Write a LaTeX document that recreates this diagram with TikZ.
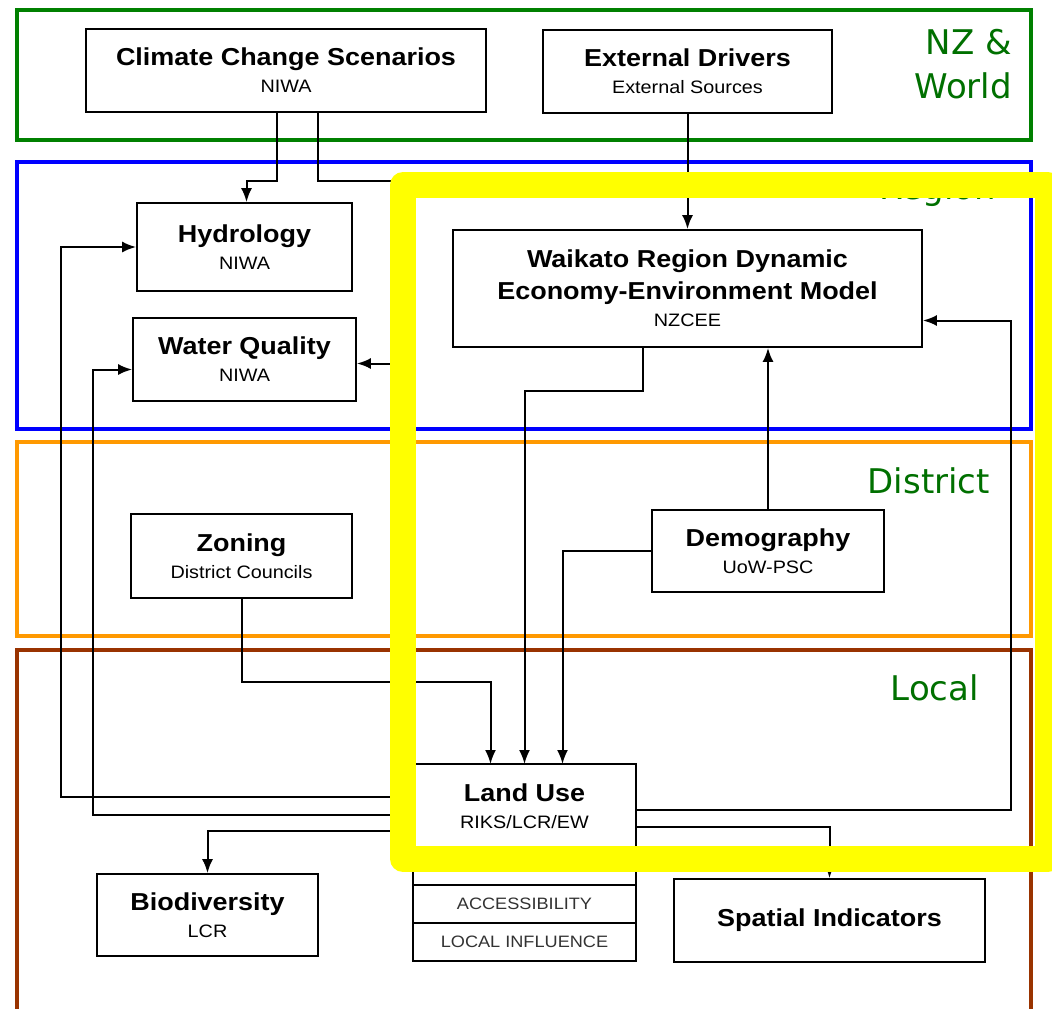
\documentclass[tikz,border=0pt]{standalone}
\usepackage{fontspec}
\setmainfont{Liberation Sans}[FakeStretch=1.1]
\newfontfamily\zonefont{DejaVu Sans}
\usetikzlibrary{positioning,calc,arrows.meta}

\definecolor{worldgreen}{RGB}{0,128,0}
\definecolor{labelgreen}{RGB}{0,112,0}
\definecolor{regionblue}{RGB}{0,0,255}
\definecolor{districtorange}{RGB}{255,153,0}
\definecolor{localbrown}{RGB}{153,51,0}
\definecolor{focusyellow}{RGB}{255,255,0}

\newcommand{\modtitle}[1]{{\fontsize{24.5}{30}\selectfont\bfseries #1}}

\tikzset{
  model/.style={draw, line width=1.8pt, align=center, inner sep=0pt,
    font=\fontsize{18}{27}\selectfont},
  cell/.style={draw, line width=1.6pt, inner sep=0pt, outer sep=0pt,
    text=black!80, font=\fontsize{16.5}{20}\selectfont},
  link/.style={line width=2pt, -{Latex[length=14pt,width=11pt]}},
  zone/.style={line width=4pt},
  zonelabel/.style={text=labelgreen, inner sep=0pt,
    font=\zonefont\fontsize{34}{44}\selectfont}
}

\begin{document}
\begin{tikzpicture}[x=1pt,y=-1pt]
    \clip (0,0) rectangle (1052,1009);
    \fill[white] (0,0) rectangle (1052,1009);

    % scale bands
    \draw[zone,worldgreen] (17,10) rectangle (1031,140);
    \draw[zone,regionblue] (17,162) rectangle (1031,429);
    \draw[zone,districtorange] (17,442) rectangle (1031,636);
    \draw[zone,localbrown] (17,650) rectangle (1031,1030);

    \node[zonelabel, align=right, anchor=north east] (world) at (1012,29) {NZ \&\\World};
    \node[zonelabel, anchor=base east] (region) at (996,199) {Region};
    \node[zonelabel, anchor=base east] (district) at (990,493) {District};
    \node[zonelabel, anchor=base east] (local) at (979,700) {Local};

    % models
    \node[model, minimum width=400pt, minimum height=83pt] (clim) at (286,70.5)
        {\modtitle{Climate Change Scenarios}\\NIWA};
    \node[model, minimum width=289pt, minimum height=83pt] (ext) at (687.5,71.5)
        {\modtitle{External Drivers}\\External Sources};
    \node[model, minimum width=215pt, minimum height=88pt] (hyd) at (244.5,247)
        {\modtitle{Hydrology}\\NIWA};
    \node[model, minimum width=223pt, minimum height=83pt] (wq) at (244.5,359.5)
        {\modtitle{Water Quality}\\NIWA};
    \node[model, minimum width=469pt, minimum height=117pt] (wrdeem) at (687.5,288.5)
        {\modtitle{Waikato Region Dynamic}\\[5pt]\modtitle{Economy-Environment Model}\\NZCEE};
    \node[model, minimum width=221pt, minimum height=84pt] (zon) at (241.5,556)
        {\modtitle{Zoning}\\District Councils};
    \node[model, minimum width=232pt, minimum height=82pt] (demo) at (768,551)
        {\modtitle{Demography}\\UoW-PSC};
    \node[model, minimum width=221pt, minimum height=82pt] (bio) at (207.5,915)
        {\modtitle{Biodiversity}\\LCR};
    \node[model, minimum width=311pt, minimum height=83pt] (spat) at (829.5,920.5)
        {\modtitle{Spatial Indicators}};

    % land use model and its layers
    \node[model, outer sep=0pt, minimum width=223pt, minimum height=84pt] (land) at (524.5,806)
        {\modtitle{Land Use}\\RIKS/LCR/EW};
    \node[cell, minimum width=223pt, minimum height=37pt, below=0pt of land] (spare) {};
    \node[cell, minimum width=223pt, minimum height=38pt, below=0pt of spare] (access) {ACCESSIBILITY};
    \node[cell, minimum width=223pt, minimum height=38pt, below=0pt of access] (locinf) {LOCAL INFLUENCE};

    % flows
    \draw[link] ([xshift=-9pt]clim.south) -- ++(0,68) -| ([xshift=2pt]hyd.north);
    \draw[link] ([xshift=32pt]clim.south) -- ++(0,68) -| ($(wq.east)+(44,4)$) -- ($(wq.east)+(0,4)$);
    \draw[link] (ext.south) -- (wrdeem.north);
    \draw[link] ([xshift=-44.5pt]wrdeem.south) -- ++(0,43) -| (land.north);
    \draw[link] (demo.north) -- (demo.north |- wrdeem.south);
    \draw[link] (demo.west) -| ([xshift=38pt]land.north);
    \draw[link] (zon.south) -- ++(0,83) -| ([xshift=-34pt]land.north);
    \draw[link] ($(land.west)+(0,-9)$) -| ($(hyd.west)+(-75,0)$) -- (hyd.west);
    \draw[link] ($(land.west)+(0,9)$) -| ($(wq.west)+(-39,10)$) -- ($(wq.west)+(0,10)$);
    \draw[link] ($(land.west)+(0,25)$) -| (bio.north);
    \draw[link] ($(land.east)+(0,4)$) -| ($(wrdeem.east)+(88,32)$) -- ($(wrdeem.east)+(0,32)$);
    \draw[link] ($(land.east)+(0,21)$) -| (spat.north);

    % highlighted core
    \draw[focusyellow, line width=26pt, line join=round] (403,185) rectangle (1048,859);
\end{tikzpicture}
\end{document}
